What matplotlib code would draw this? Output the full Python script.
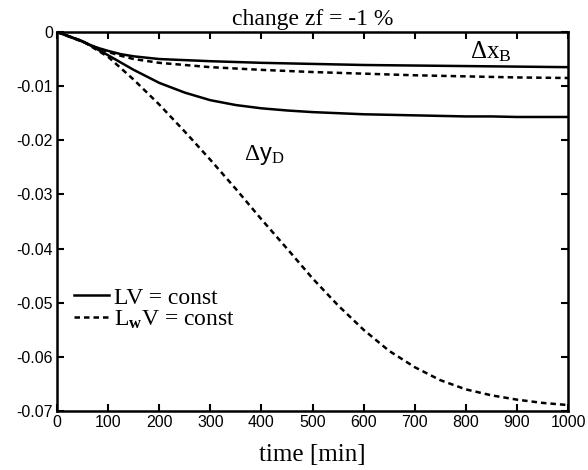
"""Step response after a -1 % change in zf: LV vs LwV configuration."""

import matplotlib

matplotlib.use("Agg")
import matplotlib.pyplot as plt
import numpy as np

plt.rcParams["mathtext.fontset"] = "custom"
plt.rcParams["mathtext.rm"] = "Liberation Serif"
plt.rcParams["mathtext.it"] = "Liberation Serif:italic"
plt.rcParams["mathtext.bf"] = "Liberation Serif:bold"

# time grids [min]
t_xb = [0, 50, 75, 100, 125, 150, 200, 300, 400, 500, 600, 700, 800, 900, 1000]
t_yd = [0, 50, 100, 150, 200, 250, 300, 350, 400, 450, 500, 550, 600,
        650, 700, 750, 800, 850, 900, 950, 1000]

# LV = const (solid)
xb_lv = [0, -0.0018, -0.0028, -0.0035, -0.0041, -0.0045, -0.0050, -0.0054,
         -0.0057, -0.0059, -0.0061, -0.0062, -0.0063, -0.0064, -0.0065]
yd_lv = [0, -0.0017, -0.0043, -0.0070, -0.0094, -0.0112, -0.0126, -0.0135,
         -0.0141, -0.0145, -0.0148, -0.0150, -0.0152, -0.0153, -0.0154,
         -0.0155, -0.0156, -0.0156, -0.0157, -0.0157, -0.0157]

# LwV = const (dashed)
xb_lwv = [0, -0.0018, -0.0028, -0.0037, -0.0044, -0.0050, -0.0057, -0.0065,
          -0.0070, -0.0074, -0.0077, -0.0080, -0.0082, -0.0084, -0.0085]
yd_lwv = [0, -0.0017, -0.0046, -0.0088, -0.0134, -0.0184, -0.0236, -0.0290,
          -0.0346, -0.0400, -0.0455, -0.0505, -0.0550, -0.0589, -0.0619,
          -0.0643, -0.0660, -0.0671, -0.0679, -0.0685, -0.0689]

fig = plt.figure(figsize=(5.88, 4.70), dpi=100)
ax = fig.add_axes([0.097, 0.1255, 0.869, 0.8065])

lw = 1.8
dash = (0, (2.2, 1.6))
ax.plot(t_xb, xb_lv, color="black", linewidth=lw, label="LV = const")
ax.plot(t_xb, xb_lwv, color="black", linewidth=lw, linestyle=dash,
        label=r"L$_\mathbf{w}$V = const")
ax.plot(t_yd, yd_lv, color="black", linewidth=lw)
ax.plot(t_yd, yd_lwv, color="black", linewidth=lw, linestyle=dash)

ax.set_xlim(0, 1000)
ax.set_ylim(-0.07, 0)
ax.set_xticks(np.arange(0, 1001, 100))
ax.set_yticks(np.arange(-0.07, 0.001, 0.01))
ax.set_yticklabels(["-0.07", "-0.06", "-0.05", "-0.04", "-0.03", "-0.02", "-0.01", "0"])
ax.tick_params(direction="in", top=True, right=True, length=5, width=1.5,
               labelsize=11.5, pad=3)
for lab in ax.get_xticklabels() + ax.get_yticklabels():
    lab.set_family("Liberation Sans")
for sp in ax.spines.values():
    sp.set_linewidth(1.8)

ax.text(848, -0.0037, r"$\Delta$x$_\mathrm{B}$", fontsize=18,
        family="Liberation Serif", ha="center", va="center")
ax.text(405, -0.0228, r"$\Delta$y$_\mathrm{D}$", fontsize=17,
        family="Liberation Sans", ha="center", va="center")

ax.legend(loc="lower left", bbox_to_anchor=(0.0, 0.168), frameon=False,
          prop={"family": "Liberation Serif", "size": 17},
          handlelength=1.5, handletextpad=0.2, labelspacing=0.0,
          borderaxespad=0.3)

ax.set_title("change zf = -1 %", family="Liberation Serif", fontsize=17, pad=5)
ax.set_xlabel("time [min]", family="Liberation Serif", fontsize=18, labelpad=10)

fig.savefig("out.png", dpi=100)
